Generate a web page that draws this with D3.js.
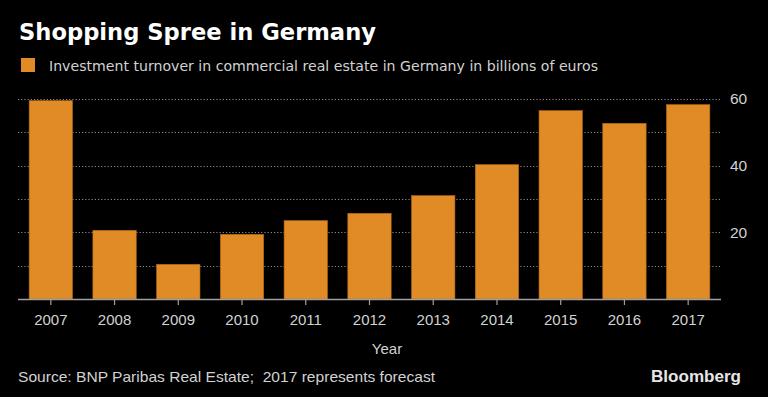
<!DOCTYPE html>
<html>
<head>
<meta charset="utf-8">
<script src="https://cdn.jsdelivr.net/npm/d3@7/dist/d3.min.js"></script>
<style>
  html, body { margin: 0; padding: 0; background: #000; }
  svg { display: block; }
</style>
</head>
<body>
<svg id="chart" width="768" height="397"></svg>
<script>
const years = ["2007","2008","2009","2010","2011","2012","2013","2014","2015","2016","2017"];
const values = [59.5, 20.6, 10.4, 19.4, 23.5, 25.7, 31.0, 40.3, 56.5, 52.7, 58.3];
const gridTicks = [10, 20, 30, 40, 50, 60];
const labelTicks = [20, 40, 60];
const titleText = "Shopping Spree in Germany";
const legendText = "Investment turnover in commercial real estate in Germany in billions of euros";
const axisTitle = "Year";
const sourceText = "Source: BNP Paribas Real Estate;  2017 represents forecast";
const brandText = "Bloomberg";

const svg = d3.select("#chart");
svg.append("rect").attr("width", 768).attr("height", 397).attr("fill", "#000");

const x = d3.scaleBand().domain(years).range([18, 721]).paddingInner(0.32).paddingOuter(0.175);
const y = d3.scaleLinear().domain([0, 60]).range([299, 99]);

const labelFont = "'Liberation Sans', Arial, sans-serif";
const textColor = "#d2d2d2";

// Title
svg.append("text")
  .attr("x", 19).attr("y", 39.5)
  .attr("font-family", "'DejaVu Sans', Verdana, sans-serif")
  .attr("font-weight", "bold").attr("font-size", 23)
  .attr("fill", "#ffffff")
  .attr("textLength", 357).attr("lengthAdjust", "spacingAndGlyphs")
  .text(titleText);

// Legend
svg.append("rect").attr("x", 21).attr("y", 58).attr("width", 14).attr("height", 14).attr("fill", "#e08b26");
svg.append("text")
  .attr("x", 49).attr("y", 70.5)
  .attr("font-family", "'DejaVu Sans', Verdana, sans-serif")
  .attr("font-size", 14).attr("fill", textColor)
  .attr("textLength", 549).attr("lengthAdjust", "spacingAndGlyphs")
  .text(legendText);

// Gridlines
svg.append("g").selectAll("line").data(gridTicks).join("line")
  .attr("x1", 18).attr("x2", 721)
  .attr("y1", d => Math.round(y(d)) + 0.5).attr("y2", d => Math.round(y(d)) + 0.5)
  .attr("stroke", "#8a8a8a").attr("stroke-width", 1.2)
  .attr("stroke-dasharray", "1.2,2");

// Bars
svg.append("g").selectAll("rect").data(values).join("rect")
  .attr("x", (d, i) => x(years[i]))
  .attr("width", x.bandwidth())
  .attr("y", d => y(d))
  .attr("height", d => y(0) - y(d))
  .attr("fill", "#e08b26")
  .attr("stroke", "#b36a16").attr("stroke-width", 0.6);

// X axis
const xAxis = svg.append("g").attr("transform", "translate(0,299)")
  .call(d3.axisBottom(x).tickSize(6).tickSizeOuter(0).tickPadding(9));
xAxis.select(".domain").attr("stroke", "#a0a0a0").attr("stroke-width", 1.5)
  .attr("d", "M18,0.5H721");
xAxis.selectAll(".tick line").attr("stroke", "#a0a0a0").attr("stroke-width", 1.2);
xAxis.selectAll(".tick text").attr("fill", textColor)
  .attr("font-family", labelFont).attr("font-size", 15);

// Y axis labels (right side)
const yAxis = svg.append("g").attr("transform", "translate(721,0)")
  .call(d3.axisRight(y).tickValues(labelTicks).tickSize(0).tickPadding(9));
yAxis.select(".domain").remove();
yAxis.selectAll(".tick text").attr("fill", textColor)
  .attr("font-family", labelFont).attr("font-size", 15.5);

// Axis title
svg.append("text")
  .attr("x", 387).attr("y", 354).attr("text-anchor", "middle")
  .attr("font-family", labelFont).attr("font-size", 15)
  .attr("fill", textColor).text(axisTitle);

// Source
svg.append("text")
  .attr("x", 18).attr("y", 382)
  .style("white-space", "pre")
  .attr("font-family", labelFont).attr("font-size", 15)
  .attr("fill", textColor)
  .attr("textLength", 417).attr("lengthAdjust", "spacingAndGlyphs")
  .text(sourceText);

// Brand
svg.append("text")
  .attr("x", 741).attr("y", 382).attr("text-anchor", "end")
  .attr("font-family", labelFont).attr("font-weight", "bold").attr("font-size", 16)
  .attr("fill", "#e6e6e6")
  .attr("textLength", 90).attr("lengthAdjust", "spacingAndGlyphs")
  .text(brandText);
</script>
</body>
</html>
